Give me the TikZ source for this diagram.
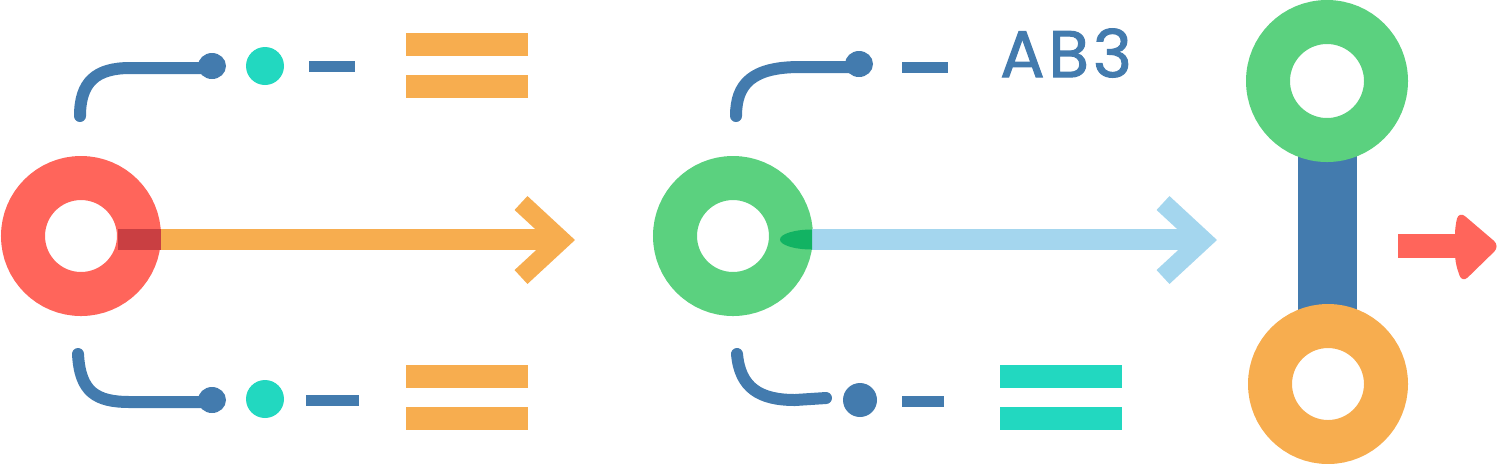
\documentclass[tikz,border=0pt]{standalone}
\usepackage{fontspec}
\newfontfamily\abfont{Poppins}[LetterSpace=6, FakeBold=1.6]
\definecolor{cred}{HTML}{FF655B}
\definecolor{cdred}{HTML}{C93F42}
\definecolor{corange}{HTML}{F7AD4F}
\definecolor{cgreen}{HTML}{5BD17F}
\definecolor{cdgreen}{HTML}{12B363}
\definecolor{cblue}{HTML}{437BAE}
\definecolor{cteal}{HTML}{22D8C0}
\definecolor{clblue}{HTML}{A4D6EE}
\tikzset{
  ring/.style={line width=22pt},
  shaft/.style={line width=10.5pt},
  chev/.style={line width=9.5pt, line join=miter},
  hookline/.style={draw=cblue, line width=6pt, line cap=round},
  dashline/.style={draw=cblue, line width=5.5pt},
  barbox/.style={inner sep=0pt, minimum width=61pt, minimum height=11.5pt}
}
\begin{document}
\begin{tikzpicture}[x=0.5pt,y=-0.5pt]
\useasboundingbox (0,0) rectangle (1500,463);
% coordinates
\coordinate (r1) at (81,236);
\coordinate (r2) at (733,236);
\coordinate (g3) at (1327,81);
\coordinate (o3) at (1328,384);
\coordinate (s1a) at (118,239.5);
\coordinate (s1b) at (555,239.5);
\coordinate (s2a) at (812,239.5);
\coordinate (s2b) at (1197,239.5);
% red ring and orange arrow
\draw[ring, draw=cred] (r1) circle[radius=29pt];
\draw[shaft, draw=corange] (s1a) -- (s1b);
\fill[cdred] (118,229) rectangle (161,250);
\coordinate (c1t) at (521,203);
\coordinate (c1m) at (561,240);
\coordinate (c1b) at (521,277);
\draw[chev, draw=corange] (c1t) -- (c1m) -- (c1b);
% green ring and blue arrow
\draw[ring, draw=cgreen] (r2) circle[radius=29pt];
\draw[shaft, draw=clblue] (s2a) -- (s2b);
\begin{scope}
\clip (770,220) rectangle (812,260);
\fill[cdgreen] (s2a) ellipse[x radius=16pt, y radius=5pt];
\end{scope}
\coordinate (c2t) at (1163,203);
\coordinate (c2m) at (1203,240);
\coordinate (c2b) at (1163,277);
\draw[chev, draw=clblue] (c2t) -- (c2m) -- (c2b);
% dumbbell
\fill[cblue] (1298,150) rectangle (1357,310);
\draw[ring, draw=cgreen] (g3) circle[radius=29.5pt];
\draw[ring, draw=corange] (o3) circle[radius=29pt];
% small red arrow
\fill[cred] (1398,234) rectangle (1460,258);
\fill[cred, rounded corners=4pt] (1455,226) -- (1459,211) -- (1500,246) -- (1462,283) -- (1455,262) -- cycle;
% top-left group
\coordinate (tl0) at (80,116);
\coordinate (tl1) at (205,68);
\draw[hookline] (tl0) .. controls (80,82) and (96,68) .. (130,68) -- (tl1);
\fill[cblue] (212,66) ellipse[x radius=7pt, y radius=6.5pt];
\fill[cteal] (265,66) circle[radius=9.5pt];
\draw[dashline] (309,66) -- (355,66);
\node[barbox, fill=corange] (bt1) at (467,44.5) {};
\node[barbox, fill=corange] (bt2) at (467,86.5) {};
% bottom-left group
\coordinate (bl0) at (78,354);
\coordinate (bl1) at (205,402);
\draw[hookline] (bl0) .. controls (80,392) and (96,402) .. (130,402) -- (bl1);
\fill[cblue] (212,400) ellipse[x radius=7pt, y radius=6.5pt];
\fill[cteal] (265,399) circle[radius=9.5pt];
\draw[dashline] (306,400) -- (359,400);
\node[barbox, fill=corange] (bb1) at (467,376.5) {};
\node[barbox, fill=corange] (bb2) at (467,418.5) {};
% middle top group
\coordinate (mt0) at (736,116);
\coordinate (mt1) at (850,67);
\draw[hookline] (mt0) .. controls (736,84) and (752,67) .. (800,67) -- (mt1);
\fill[cblue] (859,64) ellipse[x radius=7pt, y radius=6.5pt];
\draw[dashline] (902,67) -- (948,67);
\node[font=\abfont\fontsize{33}{33}\selectfont, text=cblue, inner sep=0pt] (ab) at (1066,53) {AB3};
% middle bottom group
\coordinate (mb0) at (737,354);
\coordinate (mb1) at (826,398);
\draw[hookline] (mb0) .. controls (740,388) and (760,400) .. (795,400) -- (mb1);
\fill[cblue] (860,400) circle[radius=8.5pt];
\draw[dashline] (902,401) -- (944,401);
\node[barbox, fill=cteal] (tb1) at (1061,376.5) {};
\node[barbox, fill=cteal] (tb2) at (1061,418.5) {};
\end{tikzpicture}
\end{document}
